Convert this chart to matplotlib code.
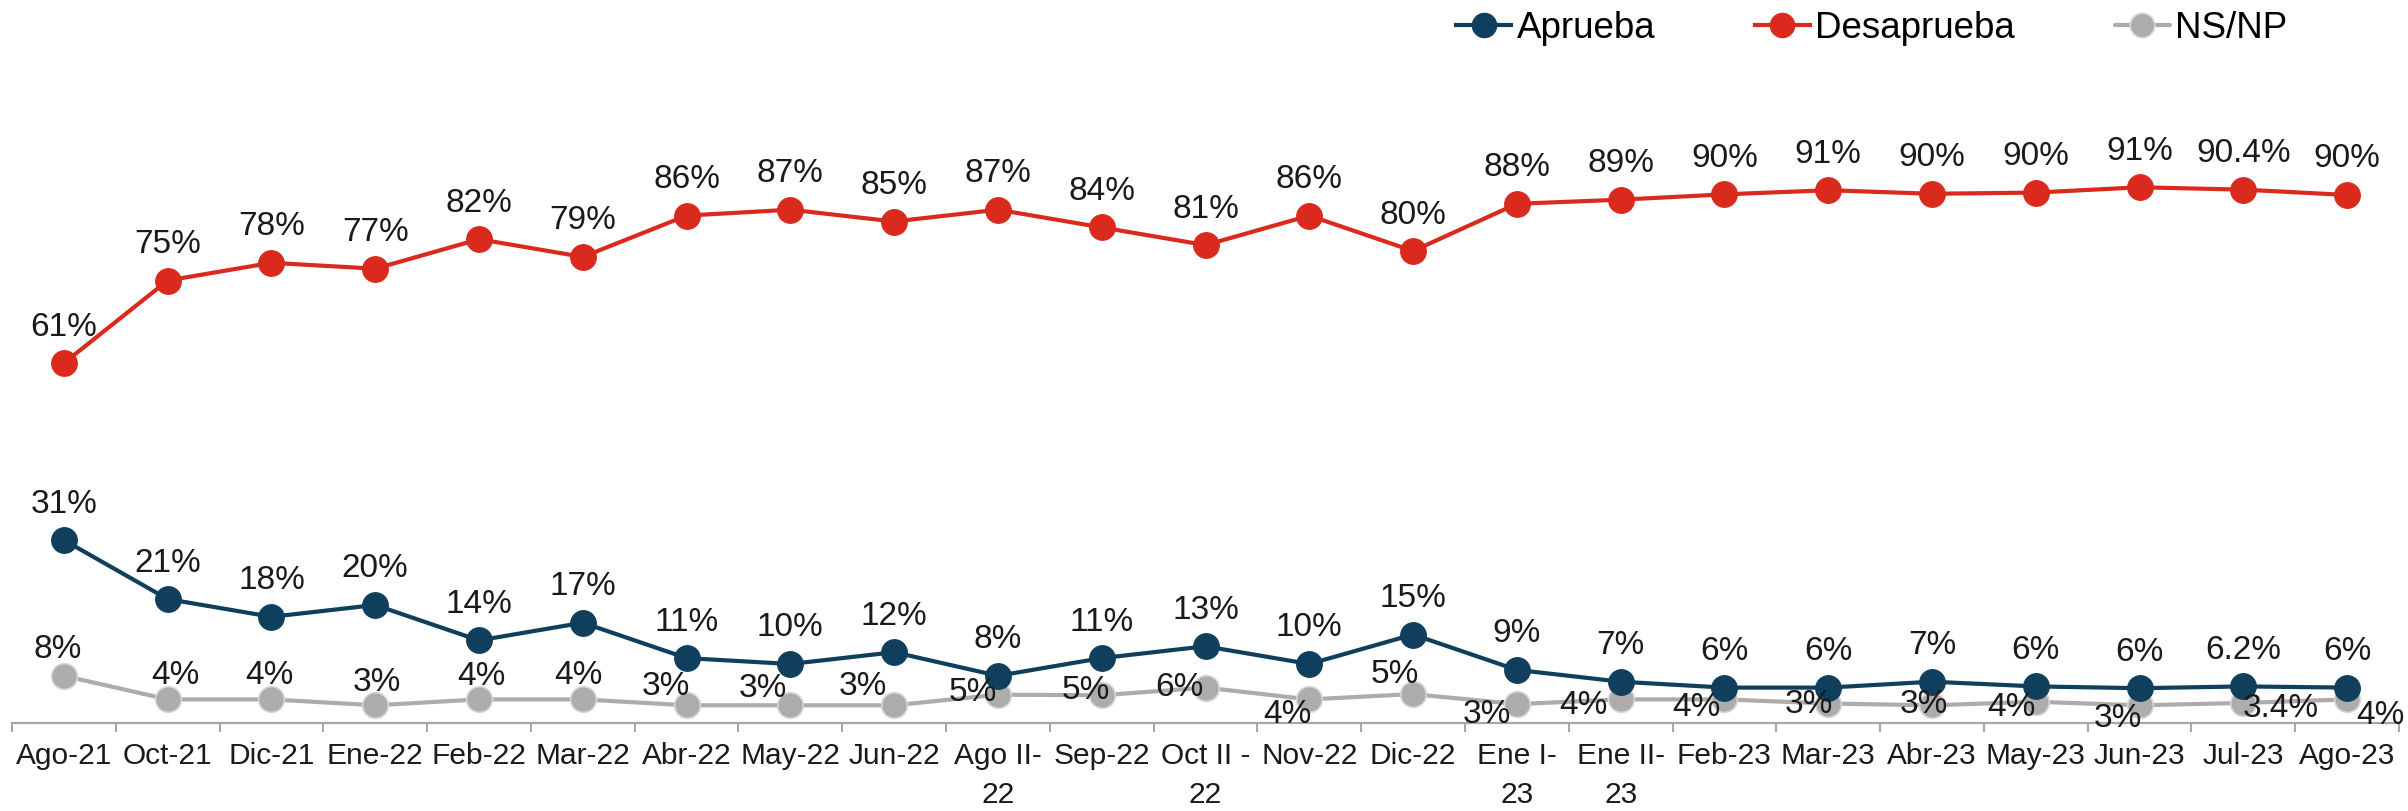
import matplotlib
matplotlib.use("Agg")
import matplotlib.pyplot as plt
from matplotlib.ticker import FixedLocator

plt.rcParams['font.family'] = ['Liberation Sans', 'DejaVu Sans']

categories = ["Ago-21", "Oct-21", "Dic-21", "Ene-22", "Feb-22", "Mar-22", "Abr-22",
              "May-22", "Jun-22", "Ago II-\n22", "Sep-22", "Oct II -\n22", "Nov-22",
              "Dic-22", "Ene I-\n23", "Ene II-\n23", "Feb-23", "Mar-23", "Abr-23",
              "May-23", "Jun-23", "Jul-23", "Ago-23"]

aprueba = [31, 21, 18, 20, 14, 17, 11, 10, 12, 8, 11, 13, 10, 15, 9, 7, 6, 6, 7, 6.2, 5.9, 6.2, 6.0]
aprueba_lbl = ["31%", "21%", "18%", "20%", "14%", "17%", "11%", "10%", "12%", "8%", "11%", "13%",
               "10%", "15%", "9%", "7%", "6%", "6%", "7%", "6%", "6%", "6.2%", "6%"]

desaprueba = [61, 75, 78, 77, 82, 79, 86, 87, 85, 87, 84, 81, 86, 80, 88, 88.7, 89.6, 90.3,
              89.7, 89.9, 90.8, 90.4, 89.5]
desaprueba_lbl = ["61%", "75%", "78%", "77%", "82%", "79%", "86%", "87%", "85%", "87%", "84%",
                  "81%", "86%", "80%", "88%", "89%", "90%", "91%", "90%", "90%", "91%", "90.4%", "90%"]

nsnp = [8, 4, 4, 3, 4, 4, 3, 3, 3, 4.8, 4.7, 6, 4, 4.9, 3.2, 4, 4, 3.3, 3.0, 3.6, 3.0, 3.4, 4]
nsnp_lbl = ["8%", "4%", "4%", "3%", "4%", "4%", "3%", "3%", "3%", "5%", "5%", "6%", "4%", "5%",
            "3%", "4%", "4%", "3%", "3%", "4%", "3%", "3.4%", "4%"]

# label offsets for NS/NP (pixels: dx right, dy down) -- styling only
nsnp_off = [(-6, -27), (8, -25), (-2, -25), (2, -24), (2, -24), (-4, -25), (-21, -20),
            (-27, -18), (-31, -20), (-25, -3), (-16, -6), (-26, -1), (-22, 14), (-18, -21),
            (-30, 9), (-37, 5), (-28, 7), (-19, 0), (-8, -2), (-24, 5), (-22, 12), (37, 5),
            (33, 15)]

C_APR = "#0F3F5D"
C_DES = "#DA2A1E"
C_NS = "#AEABAB"
TXT = "#1A1A1A"
AX = "#A6A6A6"

W, H = 2408, 812
fig = plt.figure(figsize=(W / 100, H / 100), dpi=100)
left, right = 12 / W, 2399 / W
bottom = (H - 724) / H
top = (H - 134) / H
ax = fig.add_axes([left, bottom, right - left, top - bottom])

x = list(range(len(categories)))
ms = 18.5
lw = 3.0

l3, = ax.plot(x, nsnp, color=C_NS, lw=lw, marker='o', ms=ms, mec="#D8D6D6", mew=1.2,
              zorder=2, label="NS/NP", solid_capstyle='round')
l1, = ax.plot(x, aprueba, color=C_APR, lw=lw, marker='o', ms=ms, mec=C_APR, mew=0.8,
              zorder=3, label="Aprueba")
l2, = ax.plot(x, desaprueba, color=C_DES, lw=lw, marker='o', ms=ms, mec=C_DES, mew=0.8,
              zorder=3, label="Desaprueba")

FS = 24
px = 0.72
for xi, v, s in zip(x, aprueba, aprueba_lbl):
    ax.annotate(s, (xi, v), xytext=(0, 37 * px), textcoords='offset points',
                ha='center', va='center', fontsize=FS, color=TXT, zorder=5)
for xi, v, s in zip(x, desaprueba, desaprueba_lbl):
    ax.annotate(s, (xi, v), xytext=(0, 37 * px), textcoords='offset points',
                ha='center', va='center', fontsize=FS, color=TXT, zorder=5)
for xi, v, s, (dx, dy) in zip(x, nsnp, nsnp_lbl, nsnp_off):
    ax.annotate(s, (xi, v), xytext=(dx * px, -dy * px), textcoords='offset points',
                ha='center', va='center', fontsize=FS, color=TXT, zorder=5)

ax.set_xlim(-0.5, len(categories) - 0.5)
ax.set_ylim(0, 100)
for sp in ['top', 'right', 'left']:
    ax.spines[sp].set_visible(False)
ax.spines['bottom'].set_color(AX)
ax.spines['bottom'].set_linewidth(1.6)
ax.set_yticks([])
ax.xaxis.set_major_locator(FixedLocator(x))
ax.set_xticklabels(categories, fontsize=21.5, color=TXT, linespacing=1.48)
ax.tick_params(axis='x', which='major', length=0, pad=6.5 + 6.5)
ax.xaxis.set_minor_locator(FixedLocator([i - 0.5 for i in range(len(categories) + 1)]))
ax.tick_params(axis='x', which='minor', length=6.5, width=1.4, color=AX, direction='out')
ax.patch.set_alpha(0)

fig.legend(handles=[l1, l2, l3], loc='center left', bbox_to_anchor=(1456 / W, 1 - 29 / H),
           ncol=3, frameon=False, fontsize=26.5, handlelength=1.5, handletextpad=0.15,
           columnspacing=2.7, borderpad=0, borderaxespad=0, markerscale=0.95)

fig.savefig("out.png", dpi=100)
